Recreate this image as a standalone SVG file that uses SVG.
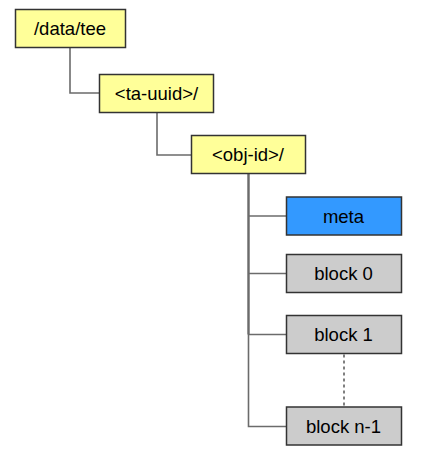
<svg xmlns="http://www.w3.org/2000/svg" width="431" height="454" viewBox="0 0 431 454">
<style>
.box{stroke:#333333;stroke-width:1.5}
.dir{fill:#ffff99}
.meta{fill:#3399ff}
.blk{fill:#cccccc}
.lbl{font-family:"Liberation Sans",Arial,sans-serif;font-size:18.5px;fill:#000;text-anchor:middle}
.con{fill:none;stroke:#6b6b6b;stroke-width:1.6}
.trunk{fill:none;stroke:#6b6b6b;stroke-width:2.2}
.dot{fill:none;stroke:#555555;stroke-width:1.5;stroke-dasharray:3,3}
</style>
<rect width="431" height="454" fill="#ffffff"/>
<g id="connectors">
<path class="con" d="M70,47 V93 H99.5"/>
<path class="con" d="M157,113 V155 H191.5"/>
<path class="trunk" d="M248.5,174 V334.5"/>
<path class="con" d="M248.5,174 V426.5 H286.5"/>
<path class="con" d="M248.5,216 H286.5"/>
<path class="con" d="M248.5,273.5 H286.5"/>
<path class="con" d="M248.5,334.5 H286.5"/>
<path class="dot" d="M344,354.5 V406"/>
</g>
<g id="node-datatee">
<rect class="box dir" x="15.5" y="9.5" width="110" height="38"/>
<text class="lbl" x="70" y="35">/data/tee</text>
</g>
<g id="node-tauuid">
<rect class="box dir" x="99.5" y="74.5" width="114" height="38"/>
<text class="lbl" x="156.5" y="100">&lt;ta-uuid&gt;/</text>
</g>
<g id="node-objid">
<rect class="box dir" x="191.5" y="135.5" width="114" height="38"/>
<text class="lbl" x="248" y="161">&lt;obj-id&gt;/</text>
</g>
<g id="node-meta">
<rect class="box meta" x="286.5" y="197" width="115" height="38"/>
<text class="lbl" x="343.5" y="222.5">meta</text>
</g>
<g id="node-block0">
<rect class="box blk" x="286.5" y="254.5" width="115" height="38"/>
<text class="lbl" x="343.5" y="280">block 0</text>
</g>
<g id="node-block1">
<rect class="box blk" x="286.5" y="315.5" width="115" height="38"/>
<text class="lbl" x="343.5" y="341">block 1</text>
</g>
<g id="node-blockn1">
<rect class="box blk" x="286.5" y="407" width="115" height="38"/>
<text class="lbl" x="343.5" y="432.5">block n-1</text>
</g>
</svg>
